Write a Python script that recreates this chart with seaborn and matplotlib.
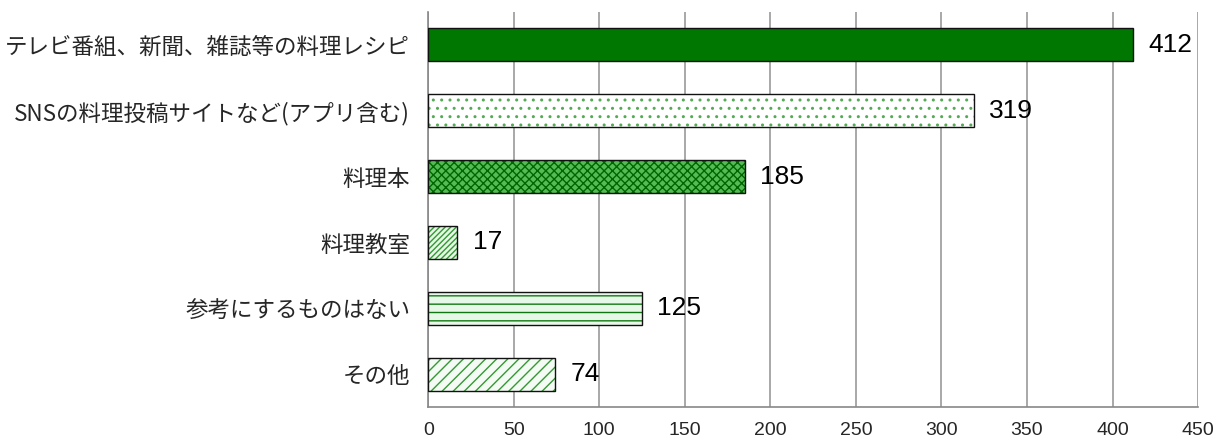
"""
料理の参考にするもの — horizontal bar chart
"""

import matplotlib
matplotlib.use("Agg")
import matplotlib.pyplot as plt
import seaborn as sns
import pandas as pd

categories = [
    "テレビ番組、新聞、雑誌等の料理レシピ",
    "SNSの料理投稿サイトなど(アプリ含む)",
    "料理本",
    "料理教室",
    "参考にするものはない",
    "その他",
]
counts = [412, 319, 185, 17, 125, 74]
x_ticks = [0, 50, 100, 150, 200, 250, 300, 350, 400, 450]

sns.set_style("white")
plt.rcParams["font.family"] = ["Noto Sans CJK JP", "DejaVu Sans"]
plt.rcParams["hatch.linewidth"] = 1.0
NUM_FONT = ["Liberation Sans", "DejaVu Sans"]

df = pd.DataFrame({"item": categories, "count": counts})

fig = plt.figure(figsize=(12.2, 4.43), dpi=100)
ax = fig.add_axes([0.351, 0.081, 0.631, 0.892])

sns.barplot(data=df, x="count", y="item", orient="h", width=0.5,
            color="white", ax=ax, zorder=3)

# face colour, hatch colour, hatch
styles = [
    ("#007700", "#007700", None),
    ("#ffffff", "#55aa55", ".."),
    ("#55bb55", "#006600", "xxxx"),
    ("#e6f7e6", "#339933", "//////"),
    ("#e8f8e8", "#117711", "--"),
    ("#f4fbf4", "#339933", "///"),
]
for bar, (fc, hc, hatch) in zip(ax.patches, styles):
    bar.set_facecolor(fc)
    bar.set_edgecolor(hc)
    bar.set_linewidth(0)
    if hatch:
        bar.set_hatch(hatch)
    outline = plt.Rectangle(bar.get_xy(), bar.get_width(), bar.get_height(),
                            fill=False, edgecolor="#111111", linewidth=1.0,
                            zorder=4)
    ax.add_patch(outline)

for bar, v in zip(ax.patches[:len(counts)], counts):
    ax.text(bar.get_width() + 9, bar.get_y() + bar.get_height() / 2, str(v),
            va="center", ha="left", fontsize=19, color="black",
            family=NUM_FONT)

ax.set_xlim(0, 450)
ax.set_xticks(x_ticks)
ax.set_ylim(len(categories) - 0.5, -0.5)
ax.xaxis.grid(True, color="#999999", linewidth=1.2, zorder=0)
ax.set_axisbelow(True)
ax.set_xlabel("")
ax.set_ylabel("")
ax.tick_params(axis="x", labelsize=14, length=6, color="#888888",
               direction="out", pad=5)
for lbl in ax.get_xticklabels():
    lbl.set_family(NUM_FONT)
ax.tick_params(axis="y", labelsize=16.2, length=0, pad=13)
ax.set_yticks(range(len(categories)))
ax.set_yticks([i + 0.5 for i in range(-1, len(categories))], minor=True)
ax.tick_params(axis="y", which="minor", length=6, color="#888888")

for s in ["top", "right"]:
    ax.spines[s].set_visible(False)
for s in ["left", "bottom"]:
    ax.spines[s].set_color("#888888")
    ax.spines[s].set_linewidth(1.2)

fig.savefig("out.png", dpi=100)
plt.close(fig)
print("Saved out.png")
